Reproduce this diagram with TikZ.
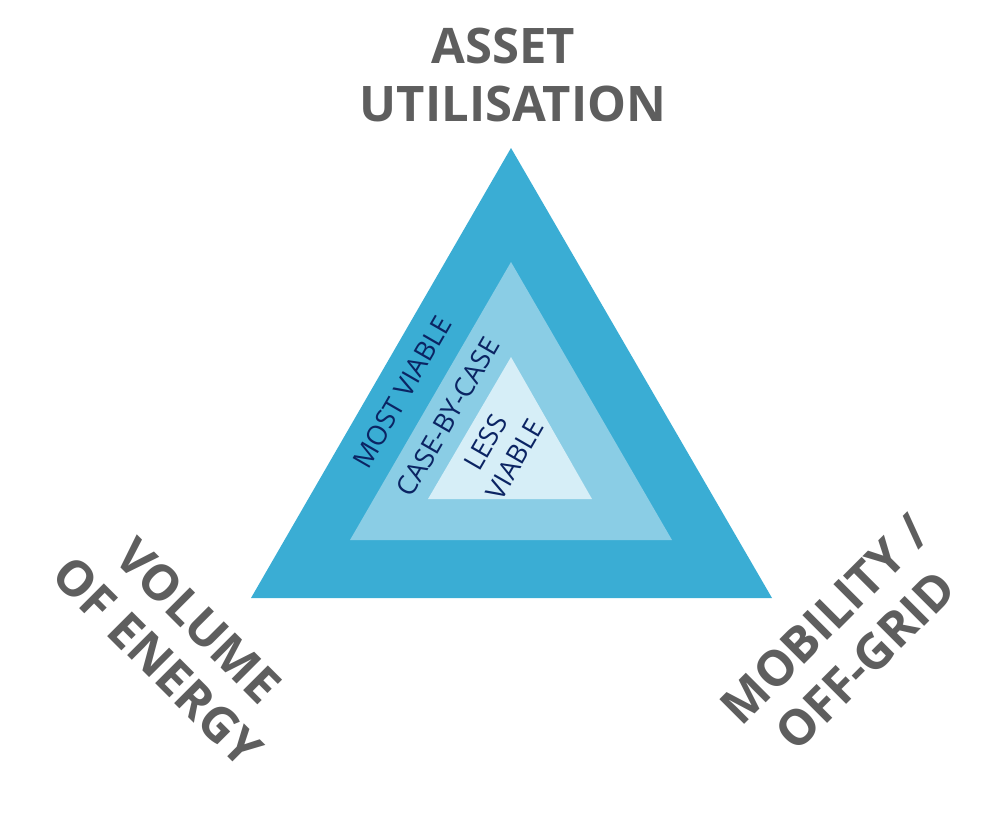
\documentclass[tikz,border=0pt]{standalone}
\usepackage{fontspec}
\setmainfont{Open Sans}
\usepackage{tikz}

\definecolor{outerblue}{HTML}{3AADD4}
\definecolor{middleblue}{HTML}{8ACDE5}
\definecolor{innerblue}{HTML}{D6EEF7}
\definecolor{labelgray}{HTML}{5E5E5E}
\definecolor{zonenavy}{HTML}{0B2463}

\tikzset{
    axis/.style={text=labelgray, font=\fontsize{49}{58}\selectfont\bfseries, align=center, inner sep=0pt},
    zone/.style={text=zonenavy, font=\fontsize{27}{34}\selectfont, align=center, inner sep=0pt}
}

\begin{document}
\begin{tikzpicture}[x=1pt,y=-1pt]
    \useasboundingbox (0,0) rectangle (1006,823);
    \coordinate (T0) at (511,148);
    \coordinate (L0) at (251,598);
    \coordinate (R0) at (772,598);
    \coordinate (T1) at (511,262);
    \coordinate (L1) at (350,540);
    \coordinate (R1) at (672,540);
    \coordinate (T2) at (511,357);
    \coordinate (L2) at (428,499);
    \coordinate (R2) at (592,499);
    \fill[outerblue] (T0) -- (L0) -- (R0) -- cycle;
    \fill[middleblue] (T1) -- (L1) -- (R1) -- cycle;
    \fill[innerblue] (T2) -- (L2) -- (R2) -- cycle;
    \node[axis] at (513,75) (utilisation) {ASSET\hspace*{20pt}\\UTILISATION};
    \node[axis, rotate=-45] at (178,641) (energy) {VOLUME\\OF ENERGY};
    \node[axis, rotate=45] at (845,640) (mobility) {MOBILITY /\\OFF-GRID};
    \node[zone, rotate=60] at (402,392) (most) {MOST VIABLE};
    \node[zone, rotate=60] at (448,417) (case) {CASE-BY-CASE};
    \node[zone, rotate=60] at (500,451) (less) {LESS\\VIABLE};
\end{tikzpicture}
\end{document}
